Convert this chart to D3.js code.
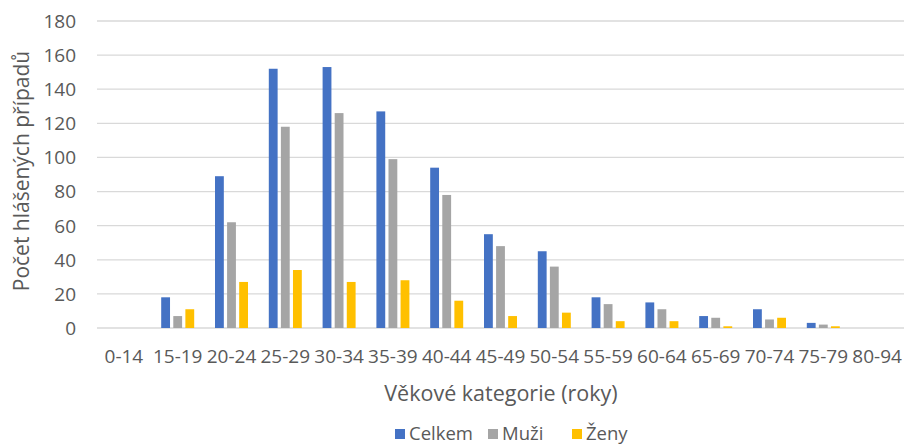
<!DOCTYPE html>
<html><head><meta charset="utf-8">
<script src="https://cdn.jsdelivr.net/npm/d3@7"></script>
<style>body{margin:0;background:#fff;} text{font-family:"Open Sans",sans-serif;fill:#595959;}</style>
</head><body>
<svg id="c" width="906" height="445"></svg>
<script>
const categories = ["0-14","15-19","20-24","25-29","30-34","35-39","40-44","45-49","50-54","55-59","60-64","65-69","70-74","75-79","80-94"];
const celkem = [0,18,89,152,153,127,94,55,45,18,15,7,11,3,0];
const muzi   = [0,7,62,118,126,99,78,48,36,14,11,6,5,2,0];
const zeny   = [0,11,27,34,27,28,16,7,9,4,4,1,6,1,0];
const yTicks = [0,20,40,60,80,100,120,140,160,180];
const seriesNames = ["Celkem","Muži","Ženy"];
const colors = ["#4472C4","#A5A5A5","#FFC000"];
const series = [celkem, muzi, zeny];

const svg = d3.select("#c");
const pL = 97, pR = 904, pT = 21, pB = 328;
const x = d3.scaleBand().domain(categories).range([pL,pR]);
const y = d3.scaleLinear().domain([0,180]).range([pB,pT]);
const xs = d3.scaleBand().domain(d3.range(3)).range([-16.5,16.5]).paddingInner(0.27);

// gridlines
svg.append("g").selectAll("line").data(yTicks).join("line")
  .attr("x1",pL).attr("x2",pR)
  .attr("y1",d=>y(d)).attr("y2",d=>y(d))
  .attr("stroke","#D9D9D9").attr("stroke-width",1.3);

// y labels
svg.append("g").selectAll("text").data(yTicks).join("text")
  .attr("x",76).attr("y",d=>y(d)).attr("dy","0.36em")
  .attr("text-anchor","end").attr("font-size",19).text(d=>d);

// bars
series.forEach((s,i)=>{
  svg.append("g").selectAll("rect").data(s).join("rect")
    .attr("x",(d,j)=>x(categories[j])+x.bandwidth()/2+xs(i))
    .attr("width",xs.bandwidth())
    .attr("y",d=>y(d)).attr("height",d=>pB-y(d))
    .attr("fill",colors[i]);
});

// x labels
svg.append("g").selectAll("text").data(categories).join("text")
  .attr("x",d=>x(d)+x.bandwidth()/2).attr("y",356).attr("dy","0.36em")
  .attr("text-anchor","middle").attr("font-size",19).text(d=>d);

// axis titles
svg.append("text").attr("x",501).attr("y",393).attr("dy","0.36em")
  .attr("text-anchor","middle").attr("font-size",21.5).text("Věkové kategorie (roky)");
svg.append("text").attr("transform","translate(21,171) rotate(-90)").attr("dy","0.36em")
  .attr("text-anchor","middle").attr("font-size",21).text("Počet hlášených případů");

// legend
const legX = [395,488,572];
const lg = svg.append("g");
seriesNames.forEach((n,i)=>{
  lg.append("rect").attr("x",legX[i]).attr("y",429).attr("width",10).attr("height",10).attr("fill",colors[i]);
  lg.append("text").attr("x",legX[i]+14).attr("y",433).attr("dy","0.36em").attr("font-size",18.5).text(n);
});
</script>
</body></html>
